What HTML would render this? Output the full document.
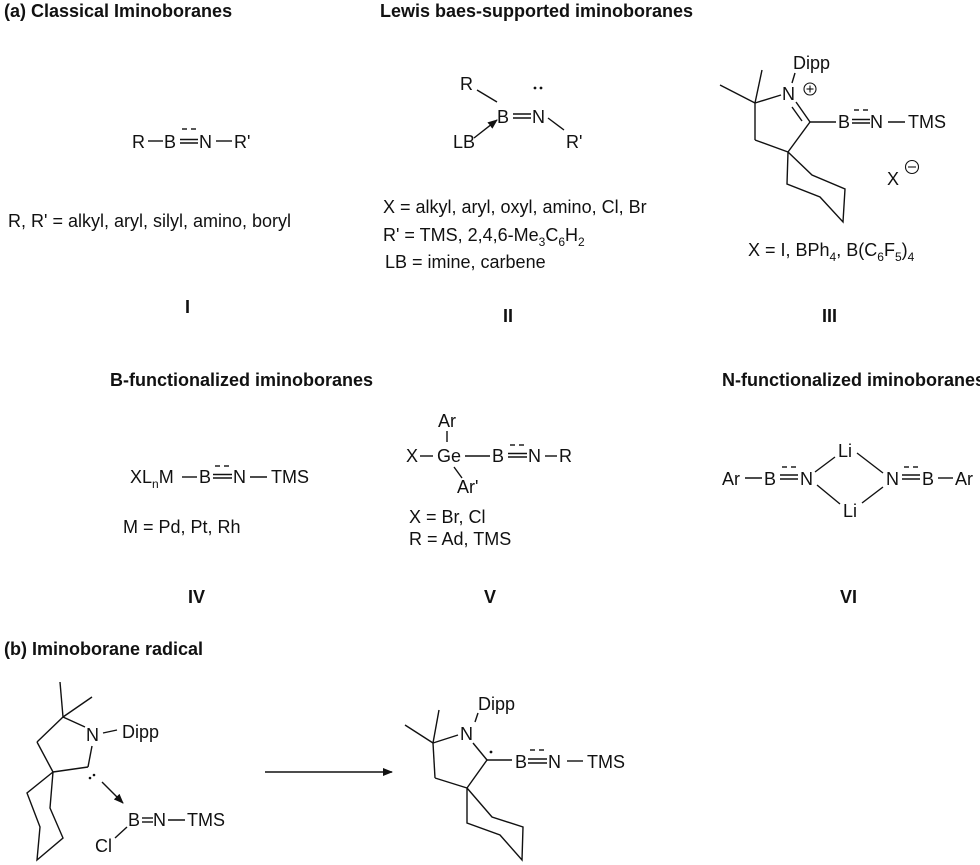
<!DOCTYPE html>
<html><head><meta charset="utf-8"><style>
html,body{margin:0;padding:0;background:#fff;}
svg{display:block;}
text{font-family:"Liberation Sans",Arial,sans-serif;font-size:18px;fill:#111;}
.h{font-weight:bold;}
line,polyline,path{stroke:#111;stroke-width:1.4;fill:none;}
</style></head><body>
<svg width="980" height="865" viewBox="0 0 980 865" xmlns="http://www.w3.org/2000/svg">
<defs><marker id="ah" markerWidth="10" markerHeight="8" refX="9" refY="4" orient="auto" markerUnits="userSpaceOnUse"><path d="M0,0 L10,4 L0,8 Z" style="fill:#111;stroke:none"/></marker></defs>

<!-- headings -->
<text class="h" x="4" y="17">(a) Classical Iminoboranes</text>
<text class="h" x="380" y="17">Lewis baes-supported iminoboranes</text>
<text class="h" x="110" y="386">B-functionalized iminoboranes</text>
<text class="h" x="722" y="386">N-functionalized iminoboranes</text>
<text class="h" x="4" y="655">(b) Iminoborane radical</text>

<!-- I -->
<text x="132" y="148">R</text>
<line x1="148" y1="141" x2="163" y2="141"/>
<text x="164" y="148">B</text>
<line x1="180" y1="139.5" x2="198" y2="139.5"/><line x1="180" y1="143" x2="198" y2="143"/>
<line x1="182" y1="129" x2="187" y2="129"/><line x1="191" y1="129" x2="196" y2="129"/>
<text x="199" y="148">N</text>
<line x1="216" y1="141" x2="232" y2="141"/>
<text x="234" y="148">R'</text>
<text x="8" y="227">R, R' = alkyl, aryl, silyl, amino, boryl</text>
<text class="h" x="185" y="313">I</text>

<!-- II -->
<text x="460" y="90">R</text>
<line x1="477" y1="90" x2="497" y2="102"/>
<text x="497" y="123">B</text>
<line x1="513" y1="114" x2="531" y2="114"/><line x1="513" y1="118" x2="531" y2="118"/>
<text x="532" y="123">N</text>
<circle cx="535" cy="88" r="1.4" style="fill:#111"/><circle cx="541" cy="88" r="1.4" style="fill:#111"/>
<line x1="548" y1="118" x2="564" y2="130"/>
<text x="566" y="148">R'</text>
<text x="453" y="148">LB</text>
<line x1="474" y1="138" x2="497" y2="120" marker-end="url(#ah)"/>
<text x="383" y="213">X = alkyl, aryl, oxyl, amino, Cl, Br</text>
<text x="383" y="241">R' = TMS, 2,4,6-Me<tspan font-size="12" dy="5">3</tspan><tspan dy="-5">C</tspan><tspan font-size="12" dy="5">6</tspan><tspan dy="-5">H</tspan><tspan font-size="12" dy="5">2</tspan></text>
<text x="385" y="268">LB = imine, carbene</text>
<text class="h" x="503" y="322">II</text>

<!-- III -->
<text x="793" y="69">Dipp</text>
<line x1="795" y1="73" x2="792" y2="83"/>
<text x="782" y="100">N</text>
<circle cx="810" cy="89" r="6" style="fill:none;stroke:#111;stroke-width:1.1"/>
<line x1="806.5" y1="89" x2="813.5" y2="89" style="stroke-width:1.1"/><line x1="810" y1="85.5" x2="810" y2="92.5" style="stroke-width:1.1"/>
<line x1="720" y1="85" x2="755" y2="103"/>
<line x1="755" y1="103" x2="762" y2="70"/>
<line x1="755" y1="103" x2="781" y2="95"/>
<line x1="796" y1="102" x2="810" y2="122"/>
<line x1="792" y1="107" x2="802" y2="121"/>
<line x1="810" y1="122" x2="836" y2="122"/>
<line x1="755" y1="103" x2="755" y2="140"/>
<line x1="755" y1="140" x2="788" y2="152"/>
<line x1="788" y1="152" x2="810" y2="122"/>
<polyline points="788,152 787,184 820,197 843,222 845,189 812,175 788,152"/>
<text x="838" y="128">B</text>
<line x1="852" y1="119.5" x2="870" y2="119.5"/><line x1="852" y1="123" x2="870" y2="123"/>
<line x1="854" y1="110" x2="859" y2="110"/><line x1="863" y1="110" x2="868" y2="110"/>
<text x="870" y="128">N</text>
<line x1="888" y1="122" x2="905" y2="122"/>
<text x="908" y="128">TMS</text>
<text x="887" y="185">X</text>
<circle cx="912" cy="167" r="6.5" style="fill:none;stroke:#111;stroke-width:1.1"/>
<line x1="908" y1="167" x2="916" y2="167" style="stroke-width:1.1"/>
<text x="748" y="256">X = I, BPh<tspan font-size="12" dy="5">4</tspan><tspan dy="-5">, B(C</tspan><tspan font-size="12" dy="5">6</tspan><tspan dy="-5">F</tspan><tspan font-size="12" dy="5">5</tspan><tspan dy="-5">)</tspan><tspan font-size="12" dy="5">4</tspan></text>
<text class="h" x="822" y="322">III</text>

<!-- IV -->
<text x="130" y="483">XL<tspan font-size="12" dy="5">n</tspan><tspan dy="-5">M</tspan></text>
<line x1="182" y1="477" x2="197" y2="477"/>
<text x="199" y="483">B</text>
<line x1="213" y1="474.5" x2="232" y2="474.5"/><line x1="213" y1="478" x2="232" y2="478"/>
<line x1="215" y1="466" x2="220" y2="466"/><line x1="224" y1="466" x2="229" y2="466"/>
<text x="233" y="483">N</text>
<line x1="250" y1="477" x2="267" y2="477"/>
<text x="271" y="483">TMS</text>
<text x="123" y="533">M = Pd, Pt, Rh</text>
<text class="h" x="188" y="603">IV</text>

<!-- V -->
<text x="438" y="427">Ar</text>
<line x1="447" y1="431" x2="447" y2="442"/>
<text x="406" y="462">X</text>
<line x1="420" y1="456" x2="433" y2="456"/>
<text x="437" y="462">Ge</text>
<line x1="465" y1="456" x2="490" y2="456"/>
<text x="492" y="462">B</text>
<line x1="508" y1="453.5" x2="527" y2="453.5"/><line x1="508" y1="457" x2="527" y2="457"/>
<line x1="510" y1="445" x2="515" y2="445"/><line x1="519" y1="445" x2="524" y2="445"/>
<text x="528" y="462">N</text>
<line x1="545" y1="456" x2="557" y2="456"/>
<text x="559" y="462">R</text>
<line x1="454" y1="467" x2="462" y2="478"/>
<text x="457" y="493">Ar'</text>
<text x="409" y="523">X = Br, Cl</text>
<text x="409" y="545">R = Ad, TMS</text>
<text class="h" x="484" y="603">V</text>

<!-- VI -->
<text x="722" y="485">Ar</text>
<line x1="745" y1="478" x2="762" y2="478"/>
<text x="764" y="485">B</text>
<line x1="780" y1="475" x2="798" y2="475"/><line x1="780" y1="479" x2="798" y2="479"/>
<line x1="782" y1="467" x2="787" y2="467"/><line x1="791" y1="467" x2="796" y2="467"/>
<text x="800" y="485">N</text>
<text x="838" y="457">Li</text>
<text x="843" y="517">Li</text>
<line x1="815" y1="472" x2="835" y2="457"/>
<line x1="857" y1="453" x2="883" y2="473"/>
<line x1="817" y1="485" x2="840" y2="504"/>
<line x1="862" y1="503" x2="883" y2="487"/>
<text x="886" y="485">N</text>
<line x1="902" y1="475" x2="920" y2="475"/><line x1="902" y1="479" x2="920" y2="479"/>
<line x1="904" y1="467" x2="909" y2="467"/><line x1="913" y1="467" x2="918" y2="467"/>
<text x="922" y="485">B</text>
<line x1="938" y1="478" x2="953" y2="478"/>
<text x="955" y="485">Ar</text>
<text class="h" x="840" y="603">VI</text>

<!-- (b) left -->
<line x1="63" y1="717" x2="60" y2="682"/>
<line x1="63" y1="717" x2="92" y2="697"/>
<line x1="63" y1="717" x2="85" y2="727"/>
<text x="86" y="741">N</text>
<line x1="103" y1="733" x2="117" y2="730"/>
<text x="122" y="738">Dipp</text>
<line x1="92" y1="746" x2="88" y2="767"/>
<line x1="88" y1="767" x2="53" y2="772"/>
<line x1="63" y1="717" x2="37" y2="742"/>
<line x1="37" y1="742" x2="53" y2="772"/>
<polyline points="53,772 27,793 40,827 37,860 63,838 50,808 53,772"/>
<circle cx="90" cy="778" r="1.3" style="fill:#111"/><circle cx="94" cy="775" r="1.3" style="fill:#111"/>
<line x1="102" y1="782" x2="123" y2="803" marker-end="url(#ah)"/>
<text x="128" y="826">B</text>
<line x1="142" y1="818" x2="153" y2="818"/><line x1="142" y1="822" x2="153" y2="822"/>
<text x="153" y="826">N</text>
<line x1="168" y1="820" x2="185" y2="820"/>
<text x="187" y="826">TMS</text>
<text x="95" y="852">Cl</text>
<line x1="115" y1="838" x2="127" y2="827"/>

<!-- arrow -->
<line x1="265" y1="772" x2="392" y2="772" marker-end="url(#ah)"/>

<!-- (b) right -->
<text x="478" y="710">Dipp</text>
<line x1="478" y1="713" x2="475" y2="722"/>
<text x="460" y="740">N</text>
<line x1="433" y1="743" x2="405" y2="725"/>
<line x1="433" y1="743" x2="439" y2="710"/>
<line x1="433" y1="743" x2="458" y2="735"/>
<line x1="473" y1="743" x2="487" y2="760"/>
<circle cx="491" cy="752" r="1.4" style="fill:#111"/>
<line x1="487" y1="760" x2="512" y2="760"/>
<line x1="433" y1="743" x2="435" y2="778"/>
<line x1="435" y1="778" x2="467" y2="788"/>
<line x1="467" y1="788" x2="487" y2="760"/>
<polyline points="467,788 467,823 500,835 522,860 523,827 492,817 467,788"/>
<text x="515" y="768">B</text>
<line x1="528" y1="759" x2="547" y2="759"/><line x1="528" y1="763" x2="547" y2="763"/>
<line x1="530" y1="750" x2="535" y2="750"/><line x1="539" y1="750" x2="544" y2="750"/>
<text x="548" y="768">N</text>
<line x1="567" y1="761" x2="583" y2="761"/>
<text x="587" y="768">TMS</text>
</svg>
</body></html>
